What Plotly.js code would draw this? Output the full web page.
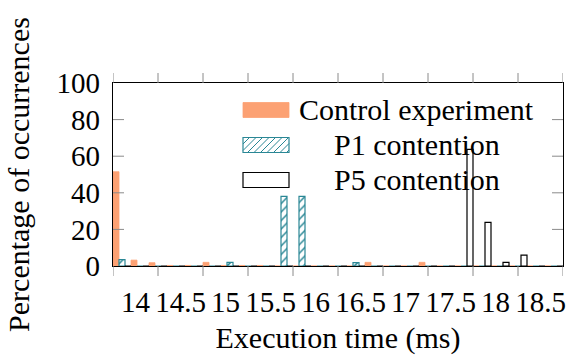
<!DOCTYPE html>
<html><head><meta charset="utf-8">
<script src="https://cdn.plot.ly/plotly-3.0.1.min.js"></script>
<style>html,body{margin:0;padding:0;background:#fff}</style>
</head><body><div id="chart" style="width:568px;height:356px"></div>
<script>
// ---- data (bin start in ms, percentage of occurrences) ----
const bins = [14.0,14.2,14.4,14.6,14.8,15.0,15.2,15.4,15.6,15.8,16.0,16.2,16.4,16.6,16.8,17.0,17.2,17.4,17.6,17.8,18.0,18.2,18.4,18.6,18.8];
const controlExperiment = [51.5,3.2,1.8,0.3,0.3,2.0,0.3,0.3,0.3,0,0,0,0,0,2.0,0,0,2.0,0,0,0,0,0,0,0];
const p1Contention      = [3.5,0,0,0,0,0,2.0,0,0,38,38,0,0,1.8,0,0,0,0,0,0,0,0,0,0,0];
const p5Contention      = [0,0,0,0,0,0,0,0,0,0,0,0,0,0,0,0,0,0,0,63.7,23.8,2.0,5.9,0,0];
const seriesNames = ['Control experiment','P1 contention','P5 contention'];
const xTickValues = [14,14.5,15,15.5,16,16.5,17,17.5,18,18.5,19];
const xTickLabels = ['14','14.5','15','15.5','16','16.5','17','17.5','18','18.5'];
const yTickValues = [0,20,40,60,80,100];

// ---- style ----
const ORANGE = '#fca173', TEAL = '#2a8795', GRAY = '#8a8a8a';
const FONT = 'Liberation Serif';
const binWidth = 0.2, barW = binWidth / 3;

const traces = [
  {type:'bar', name:seriesNames[0], x:bins, y:controlExperiment, width:barW, offset:0,
   marker:{color:ORANGE, line:{color:ORANGE, width:0.8}}},
  {type:'bar', name:seriesNames[1], x:bins, y:p1Contention, width:barW, offset:barW,
   marker:{color:'white', pattern:{shape:'/', fgcolor:TEAL, bgcolor:'white', size:6, solidity:0.25},
           line:{color:TEAL, width:1.2}}},
  {type:'bar', name:seriesNames[2], x:bins, y:p5Contention, width:barW, offset:2*barW,
   marker:{color:'white', line:{color:'black', width:1.2}}},
  // empty trace on the label axis (interval-centred tick labels)
  {type:'scatter', mode:'markers', x:[], y:[], xaxis:'x2', yaxis:'y', hoverinfo:'skip', showlegend:false}
];

// ---- geometry helpers ----
const L = 113, R = 563, T = 83, B = 266;
const px = v => (v - L) / (R - L);
const py = v => (B - v) / (B - T);
const shapes = [];
const annotations = [];

// tick marks: x ticks outside (bottom and top), y ticks inside (left and right)
const xTickLen = 10 / (B - T), yTickLen = 11 / (R - L);
xTickValues.forEach(v => {
  shapes.push({type:'line', xref:'x', yref:'paper', x0:v, x1:v, y0:0, y1:-xTickLen, line:{color:GRAY, width:1}});
  shapes.push({type:'line', xref:'x', yref:'paper', x0:v, x1:v, y0:1, y1:1 + xTickLen, line:{color:GRAY, width:1}});
});
yTickValues.slice(1, -1).forEach(v => {
  shapes.push({type:'line', xref:'paper', yref:'y', x0:0, x1:yTickLen, y0:v, y1:v, line:{color:GRAY, width:1}});
  shapes.push({type:'line', xref:'paper', yref:'y', x0:1, x1:1 - yTickLen, y0:v, y1:v, line:{color:GRAY, width:1}});
});

// ---- hand-drawn legend (large swatches, centered text) ----
const sw = {x0:243, x1:289, h:15};
const rows = [110, 145, 180];
const swStyles = [
  {fillcolor:ORANGE, line:{color:ORANGE, width:0.8}},
  {fillcolor:'rgba(0,0,0,0)', line:{color:TEAL, width:1.2}},
  {fillcolor:'white', line:{color:'black', width:1.2}}
];
rows.forEach((cy, i) => {
  const y0 = cy - sw.h/2, y1 = cy + sw.h/2;
  if (i === 1) {
    const h = y1 - y0;
    for (let c = sw.x0 - h; c < sw.x1; c += 6.5) {
      const t0 = Math.max(0, sw.x0 - c), t1 = Math.min(h, sw.x1 - c);
      if (t1 <= t0) continue;
      shapes.push({type:'line', xref:'paper', yref:'paper',
        x0:px(c + t0), y0:py(y1 - t0), x1:px(c + t1), y1:py(y1 - t1),
        line:{color:TEAL, width:1}});
    }
  }
  shapes.push(Object.assign({type:'rect', xref:'paper', yref:'paper',
    x0:px(sw.x0), x1:px(sw.x1), y0:py(y1), y1:py(y0)}, swStyles[i]));
  annotations.push({xref:'paper', yref:'paper', x:px(416.5), y:py(cy - 1),
    xanchor:'center', yanchor:'middle', showarrow:false, text:seriesNames[i],
    font:{family:FONT, size:30, color:'black'}});
});

const layout = {
  width:568, height:356,
  margin:{l:L, r:568-R, t:T, b:356-B, pad:0},
  paper_bgcolor:'white', plot_bgcolor:'white',
  font:{family:FONT, size:29, color:'black'},
  barmode:'overlay', showlegend:false,
  xaxis:{range:[14,19], tickmode:'array', tickvals:xTickValues, showticklabels:false, ticks:'',
    showline:true, linecolor:'black', linewidth:1.2, mirror:true, showgrid:false, zeroline:false},
  xaxis2:{overlaying:'x', anchor:'y', side:'bottom', range:[14,19], tickmode:'array',
    tickvals:xTickValues.slice(0,-1).map(v => v + 0.25), ticktext:xTickLabels,
    ticks:'outside', ticklen:10, tickcolor:'rgba(255,255,255,0)', showline:false, showgrid:false,
    zeroline:false, tickfont:{family:FONT, size:29},
    title:{text:'Execution time (ms)', font:{family:FONT, size:30}, standoff:10}},
  yaxis:{range:[0,100], tickmode:'array', tickvals:yTickValues, ticks:'',
    showline:true, linecolor:'black', linewidth:1.2, mirror:true,
    showgrid:false, zeroline:false, layer:'below traces', tickfont:{family:FONT, size:29},
    ticklabelstandoff:6,
    title:{text:'Percentage of occurrences', font:{family:FONT, size:30}, standoff:18}},
  shapes, annotations
};
Plotly.newPlot('chart', traces, layout, {staticPlot:true, displayModeBar:false});
</script></body></html>
